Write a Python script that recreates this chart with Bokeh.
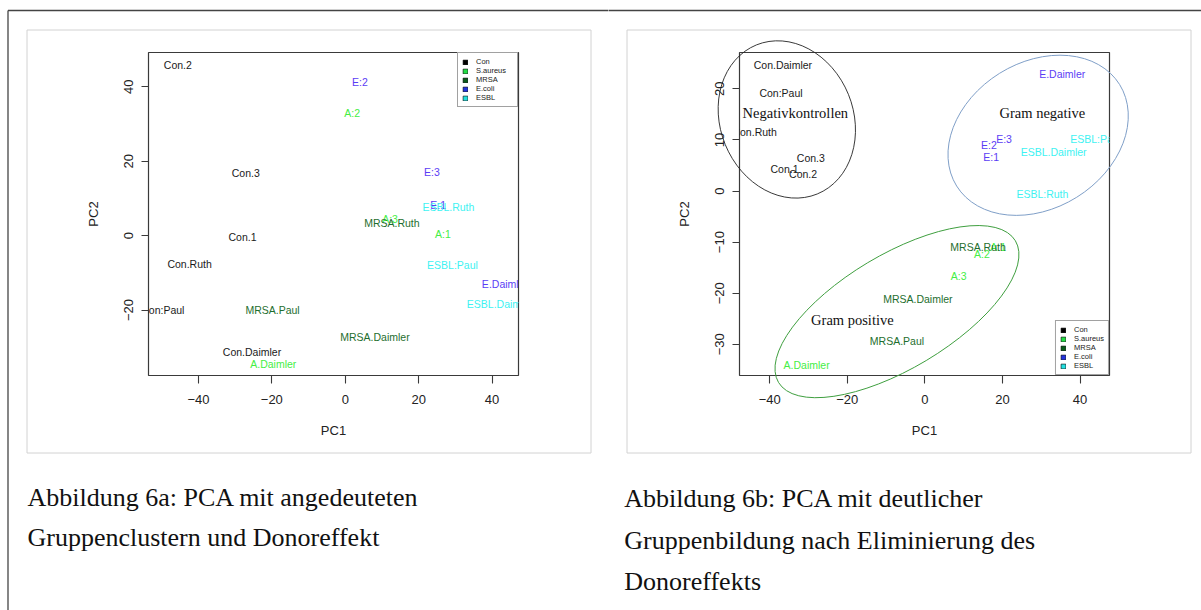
from bokeh.plotting import figure
from bokeh.models import (FixedTicker, Legend, LegendItem, ColumnDataSource, Range1d)
from bokeh.layouts import row
from bokeh.embed import file_html
from bokeh.resources import INLINE
from bokeh.core.properties import value

# ---------------- data ----------------
groups = ["Con", "S.aureus", "MRSA", "E.coli", "ESBL"]
text_colors = ["#1a1a1a", "#44ee44", "#1e6e2e", "#5b3df5", "#3ef2f2"]
legend_fill = ["#000000", "#22dd44", "#0a5a1a", "#2233dd", "#22e0e0"]

# Panel a (with donor effect)
a_labels = ["Con.2", "Con.3", "Con.1", "Con.Ruth", "Con:Paul", "Con.Daimler",
            "A:2", "A:3", "A:1", "A.Daimler",
            "MRSA.Ruth", "MRSA.Paul", "MRSA.Daimler",
            "E:2", "E:3", "E:1", "E.Daimler",
            "ESBL.Ruth", "ESBL:Paul", "ESBL.Daimler"]
a_x = [-45.6, -27.1, -28.0, -42.4, -49.7, -25.4,
       1.9, 12.2, 26.6, -19.6,
       12.7, -19.8, 8.1,
       4.0, 23.6, 25.3, 43.5,
       28.1, 29.2, 42.1]
a_y = [45.8, 16.9, -0.4, -7.6, -20.1, -31.3,
       32.9, 4.5, 0.4, -34.5,
       3.4, -20.1, -27.3,
       41.3, 17.1, 8.2, -13.1,
       7.6, -7.9, -18.4]
a_group = ["Con"] * 6 + ["S.aureus"] * 4 + ["MRSA"] * 3 + ["E.coli"] * 4 + ["ESBL"] * 3
a_xrange = (-53.6, 47.2)
a_yrange = (-37.6, 49.2)
a_xticks = [-40, -20, 0, 20, 40]
a_yticks = [-20, 0, 20, 40]

# Panel b (donor effect removed)
b_labels = ["Con.Daimler", "Con:Paul", "Con.Ruth", "Con.3", "Con.1", "Con.2",
            "A:1", "A:2", "A:3", "A.Daimler",
            "MRSA.Ruth", "MRSA.Daimler", "MRSA.Paul",
            "E.Daimler", "E:3", "E:2", "E:1",
            "ESBL:Paul", "ESBL.Daimler", "ESBL:Ruth"]
b_x = [-36.6, -37.1, -43.9, -29.4, -36.2, -31.4,
       18.9, 14.7, 8.7, -30.5,
       13.7, -1.8, -7.2,
       35.4, 20.4, 16.5, 17.1,
       44.0, 33.2, 30.3]
b_y = [24.6, 19.1, 11.5, 6.5, 4.3, 3.4,
       -11.0, -12.4, -16.6, -34.1,
       -10.9, -21.2, -29.3,
       22.9, 10.1, 9.0, 6.6,
       10.1, 7.7, -0.65]
b_group = ["Con"] * 6 + ["S.aureus"] * 4 + ["MRSA"] * 3 + ["E.coli"] * 4 + ["ESBL"] * 3
b_xrange = (-47.8, 47.6)
b_yrange = (-36.1, 27.1)
b_xticks = [-40, -20, 0, 20, 40]
b_yticks = [-30, -20, -10, 0, 10, 20]

cluster_names = ["Negativkontrollen", "Gram negative", "Gram positive"]
cluster_x = [-35.6, 29.2, -7.2]
cluster_y = [14.0, 10.9, -23.6]
cluster_label_x = [-33.4, 30.3, -18.7]
cluster_label_y = [15.2, 15.2, -25.2]

caption_a = ["Abbildung 6a: PCA mit angedeuteten", "Gruppenclustern und Donoreffekt"]
caption_b = ["Abbildung 6b: PCA mit deutlicher", "Gruppenbildung nach Eliminierung des",
             "Donoreffekts"]

SANS = value("Liberation Sans")
SERIF = value("Liberation Serif")
NAN = float("nan")
FW, FH = 370, 323
TOP = 52


def make_panel(labels, xs, ys, grp, xr, yr, xticks, yticks, legend_loc,
               bl, br, label_w):
    p = figure(frame_width=FW, frame_height=FH,
               min_border_left=bl, min_border_right=br,
               min_border_top=TOP, min_border_bottom=610 - TOP - FH,
               x_range=Range1d(*xr), y_range=Range1d(*yr),
               output_backend="svg", toolbar_location=None)
    p.grid.visible = False
    p.outline_line_color = "#3a3a3a"
    p.outline_line_width = 1.2
    p.background_fill_color = "white"
    p.border_fill_color = "white"

    for ax, ticks in ((p.xaxis[0], xticks), (p.yaxis[0], yticks)):
        ax.ticker = FixedTicker(ticks=ticks)
        ax.minor_tick_line_color = None
        ax.axis_line_color = None
        ax.major_tick_line_color = "#3a3a3a"
        ax.major_tick_line_width = 1.1
        ax.major_tick_in = 0
        ax.major_label_text_font = "Liberation Sans"
        ax.major_label_text_font_size = "13px"
        ax.major_label_text_color = "#222222"
        ax.axis_label_text_font = "Liberation Sans"
        ax.axis_label_text_font_size = "13px"
        ax.axis_label_text_font_style = "normal"
        ax.axis_label_text_color = "#222222"
    p.xaxis.major_tick_out = 8
    p.yaxis.major_tick_out = 7
    p.xaxis.axis_label = "PC1"
    p.yaxis.axis_label = "PC2"
    p.xaxis.major_label_standoff = 11
    p.xaxis.axis_label_standoff = 16
    p.yaxis.major_label_standoff = 8
    p.yaxis.axis_label_standoff = 21
    p.yaxis.major_label_orientation = "vertical"

    cols = [text_colors[groups.index(g)] for g in grp]
    src = ColumnDataSource(dict(x=xs, y=ys, label=labels, color=cols))
    p.text(x="x", y="y", text="label", source=src, text_color="color",
           text_font=SANS, text_font_size="10.5px",
           text_align="center", text_baseline="middle")

    items = []
    for g, c in zip(groups, legend_fill):
        r = p.quad(left=[NAN], right=[NAN], top=[NAN], bottom=[NAN], fill_color=c,
                   line_color="black", line_width=0.6)
        items.append(LegendItem(label=g, renderers=[r]))
    leg = Legend(items=items, location=legend_loc, margin=0, padding=4,
                 spacing=0, glyph_width=6, glyph_height=6, label_height=8,
                 label_standoff=8, label_width=label_w,
                 label_text_font="Liberation Sans", label_text_font_size="7.5px",
                 label_text_color="#222222",
                 border_line_color="#444444", border_line_width=1,
                 background_fill_color="white", background_fill_alpha=1)
    p.add_layout(leg)
    return p


# page has no margin: canvas origin = page origin
pa = make_panel(a_labels, a_x, a_y, a_group, a_xrange, a_yrange, a_xticks, a_yticks,
                "top_right", 148, 90, 37)
pb = make_panel(b_labels, b_x, b_y, b_group, b_xrange, b_yrange, b_xticks, b_yticks,
                "bottom_right", 131, 92, 28)

# cluster ellipses and names (panel b)
pb.ellipse(x=[cluster_x[0]], y=[cluster_y[0]], width=161, height=133, angle=-1.183,
           width_units="screen", height_units="screen", fill_color=None,
           line_color="#222222", line_width=0.9, level="overlay")
pb.ellipse(x=[cluster_x[1]], y=[cluster_y[1]], width=192, height=146, angle=0.557,
           width_units="screen", height_units="screen", fill_color=None,
           line_color="#7f9fc8", line_width=1.0, level="overlay")
pb.ellipse(x=[cluster_x[2]], y=[cluster_y[2]], width=276, height=114, angle=0.539,
           width_units="screen", height_units="screen", fill_color=None,
           line_color="#3f9f3f", line_width=1.0, level="overlay")
pb.text(x=cluster_label_x, y=cluster_label_y, text=cluster_names,
        text_font=SERIF, text_font_size="14.5px",
        text_color="#111111", text_align="center", text_baseline="middle")


# ---- page decoration outside the plot frames (canvas pixels -> data space) ----
def px_mapper(xr, yr, left, top):
    def fx(px):
        return xr[0] + (px - left) * (xr[1] - xr[0]) / FW

    def fy(py):
        return yr[1] - (py - top) * (yr[1] - yr[0]) / FH
    return fx, fy


def decorate(p, fx, fy, frame_lrtb, rules, captions, cap_x, cap_y0, cap_dy):
    l, r, t, b = frame_lrtb
    p.quad(left=[fx(l)], right=[fx(r)], top=[fy(t)], bottom=[fy(b)],
           fill_color=None, line_color="#d2d2d2", line_width=1, level="overlay")
    p.segment(x0=[fx(s[0]) for s in rules], y0=[fy(s[1]) for s in rules],
              x1=[fx(s[2]) for s in rules], y1=[fy(s[3]) for s in rules],
              line_color="#444444", line_width=1.3, level="overlay")
    p.text(x=[fx(cap_x)] * len(captions),
           y=[fy(cap_y0 + cap_dy * i) for i in range(len(captions))],
           text=captions, text_font=SERIF, text_font_size="26px",
           text_color="#111111", text_align="left", text_baseline="middle",
           level="overlay")


fxa, fya = px_mapper(a_xrange, a_yrange, 148, TOP)
decorate(pa, fxa, fya, (26.5, 590.5, 29.5, 452.5),
         [(7.5, 10, 608, 10), (7.5, 10, 7.5, 610)],
         caption_a, 27, 497, 40)
fxb, fyb = px_mapper(b_xrange, b_yrange, 131, TOP)
decorate(pb, fxb, fyb, (18.5, 582.5, 29.5, 452.5),
         [(0, 10, 593, 10)],
         caption_b, 15.8, 498.3, 41.4)

layout = row(pa, pb, spacing=0)
open("out.html", "w").write(file_html(layout, INLINE))
